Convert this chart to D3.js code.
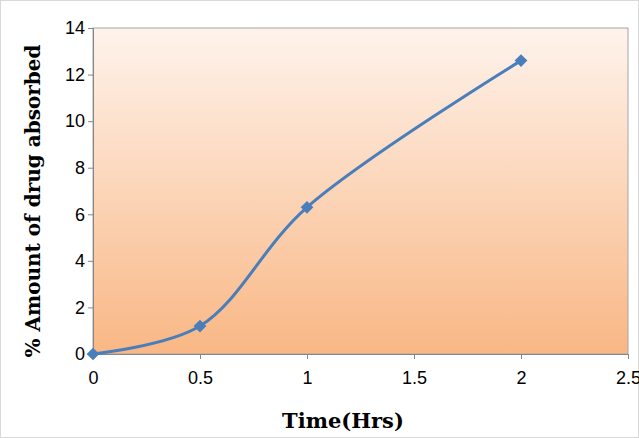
<!DOCTYPE html>
<html>
<head>
<script src="https://d3js.org/d3.v7.min.js"></script>
<style>body{margin:0;background:#fff}</style>
</head>
<body>
<svg width="639" height="438"></svg>
<script>
const timeHrs = [0, 0.5, 1, 2];
const absorbed = [0, 1.2, 6.3, 12.6];
const xTicks = [0, 0.5, 1, 1.5, 2, 2.5];
const yTicks = [0, 2, 4, 6, 8, 10, 12, 14];

const svg = d3.select('svg');
const margin = {top: 28, left: 93, right: 628, bottom: 354};

svg.append('rect').attr('x', 0.5).attr('y', 0.5).attr('width', 638).attr('height', 437)
  .attr('fill', 'none').attr('stroke', '#d9d9d9');

const x = d3.scaleLinear().domain([0, 2.5]).range([margin.left, margin.right]);
const y = d3.scaleLinear().domain([0, 14]).range([margin.bottom, margin.top]);

const defs = svg.append('defs');
const grad = defs.append('linearGradient').attr('id', 'bg').attr('x1', 0).attr('y1', 0).attr('x2', 0).attr('y2', 1);
grad.append('stop').attr('offset', '0%').attr('stop-color', '#fef3ec');
grad.append('stop').attr('offset', '100%').attr('stop-color', '#f9b784');

svg.append('rect').attr('x', margin.left).attr('y', margin.top)
  .attr('width', margin.right - margin.left).attr('height', margin.bottom - margin.top)
  .attr('fill', 'url(#bg)').attr('stroke', '#a6a6a6');

const xAxis = svg.append('g').attr('transform', `translate(0,${margin.bottom})`)
  .call(d3.axisBottom(x).tickValues(xTicks).tickFormat(d3.format('')).tickSize(5));
const yAxis = svg.append('g').attr('transform', `translate(${margin.left},0)`)
  .call(d3.axisLeft(y).tickValues(yTicks).tickSize(5));
[xAxis, yAxis].forEach(a => {
  a.selectAll('path,line').attr('stroke', '#868686');
  a.selectAll('text').attr('font-family', 'Liberation Sans, sans-serif').attr('font-size', 18).attr('fill', '#000');
});
xAxis.selectAll('text').attr('dy', '1.2em');

const pts = timeHrs.map((t, i) => [t, absorbed[i]]);
svg.append('path').datum(pts)
  .attr('d', d3.line().x(d => x(d[0])).y(d => y(d[1])).curve(d3.curveCatmullRom.alpha(0.5)))
  .attr('fill', 'none').attr('stroke', '#4a7ebb').attr('stroke-width', 3);

svg.selectAll('.pt').data(pts).enter().append('rect')
  .attr('x', -4.5).attr('y', -4.5).attr('width', 9).attr('height', 9)
  .attr('transform', d => `translate(${x(d[0])},${y(d[1])}) rotate(45)`)
  .attr('fill', '#4a7ebb');

svg.append('text').attr('x', 343).attr('y', 428).attr('text-anchor', 'middle')
  .attr('font-family', 'DejaVu Serif, serif').attr('font-weight', 'bold').attr('font-size', 21)
  .text('Time(Hrs)');
svg.append('text').attr('transform', `translate(40,${(margin.top + margin.bottom) / 2 + 10}) rotate(-90)`)
  .attr('text-anchor', 'middle')
  .attr('font-family', 'DejaVu Serif, serif').attr('font-weight', 'bold').attr('font-size', 20)
  .text('% Amount of drug absorbed');
</script>
</body>
</html>
